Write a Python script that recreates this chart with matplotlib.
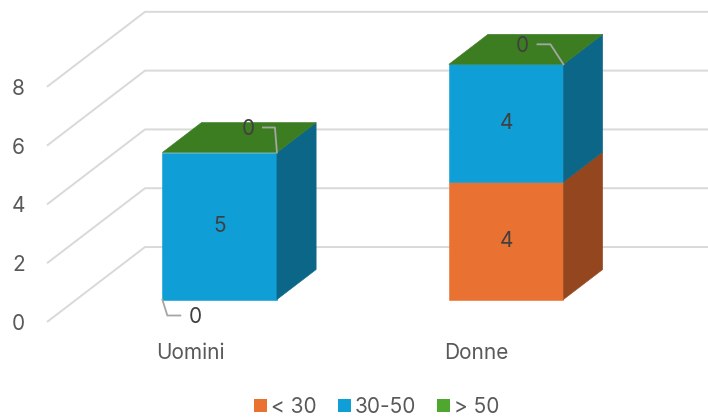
import matplotlib.pyplot as plt
from matplotlib.patches import Patch, Polygon
import numpy as np

categories = ['Uomini', 'Donne']
series = ['< 30', '30-50', '> 50']
values = {
    '< 30': [0, 4],
    '30-50': [5, 4],
    '> 50': [0, 0],
}
y_ticks = [0, 2, 4, 6, 8]

front_colors = {'< 30': '#E97132', '30-50': '#0F9ED5', '> 50': '#4EA72E'}
side_colors = {'< 30': '#94461F', '30-50': '#0B6688', '> 50': '#2F6B1A'}
top_colors = {'< 30': '#B85A28', '30-50': '#0D84B2', '> 50': '#3C7D22'}

# oblique depth (full depth of the plot box, in data units)
DX, DY = 0.342, 2.55
BAR_W = 0.4
FRONT, BACK = 0.3, 0.7
TEXT = '#595959'
LABEL = '#404040'
GRID = '#d9d9d9'
LEADER = '#a6a6a6'
FS = 15

plt.rcParams['font.family'] = ['Inter', 'DejaVu Sans']

fig = plt.figure(figsize=(7.08, 4.18), dpi=100)
ax = fig.add_axes([47 / 708, 96 / 418, 573 / 708, 8 * 29.4 / 418])
ax.set_xlim(-0.5, 1.5)
ax.set_ylim(0, 8)
for s in ax.spines.values():
    s.set_visible(False)
ax.set_yticks(y_ticks)
ax.set_xticks(range(len(categories)))
ax.set_xticklabels(categories)
ax.tick_params(length=0, labelsize=FS, labelcolor=TEXT)
ax.tick_params(axis='y', pad=16)
ax.tick_params(axis='x', pad=15)


def proj(x, y, d):
    return (x + d * DX, y + d * DY)


# gridlines: diagonal on the side wall, then along the back wall
for v in y_ticks:
    p0 = proj(-0.5, v, 0)
    p1 = proj(-0.5, v, 1)
    p2 = proj(3.0, v, 1)
    ax.plot([p0[0], p1[0], p2[0]], [p0[1], p1[1], p2[1]], color=GRID,
            lw=1.4, clip_on=False, zorder=1, solid_capstyle='butt')


def face(pts, color):
    ax.add_patch(Polygon(pts, closed=True, facecolor=color, edgecolor=color,
                         lw=0.4, clip_on=False, zorder=3))


def label_with_leader(anchor, path_px, text_px):
    base = ax.transData.transform(anchor)
    pts = [base] + [base + np.array(p) for p in path_px]
    pts = ax.transData.inverted().transform(np.array(pts))
    ax.plot(pts[:, 0], pts[:, 1], color=LEADER, lw=1.3, clip_on=False, zorder=4)
    tp = ax.transData.inverted().transform(base + np.array(text_px))
    ax.text(tp[0], tp[1], '0', color=LABEL, fontsize=FS, ha='center',
            va='center', zorder=5)


fig.canvas.draw()
h = BAR_W / 2
for i, cat in enumerate(categories):
    bottom = 0
    for s in series:
        v = values[s][i]
        y0, y1 = bottom, bottom + v
        if v > 0:
            face([proj(i - h, y0, FRONT), proj(i + h, y0, FRONT),
                  proj(i + h, y1, FRONT), proj(i - h, y1, FRONT)], front_colors[s])
            face([proj(i + h, y0, FRONT), proj(i + h, y0, BACK),
                  proj(i + h, y1, BACK), proj(i + h, y1, FRONT)], side_colors[s])
            cx, cy = proj(i, (y0 + y1) / 2, FRONT)
            ax.text(cx, cy, str(v), color=LABEL, fontsize=FS, ha='center',
                    va='center', zorder=5)
        bottom = y1
    top_s = series[-1]
    face([proj(i - h, bottom, FRONT), proj(i + h, bottom, FRONT),
          proj(i + h, bottom, BACK), proj(i - h, bottom, BACK)], top_colors[top_s])

# zero-value labels with leader lines
label_with_leader(proj(0 - h, 0, FRONT), [(5, -16), (18, -16)], (33, -17))
label_with_leader(proj(0 + h, values['30-50'][0], FRONT), [(-2, 25), (-14, 25)], (-29, 24))
label_with_leader(proj(1 + h, values['< 30'][1] + values['30-50'][1], FRONT),
                  [(-13, 20), (-26, 20)], (-41, 18))

handles = [Patch(facecolor=front_colors[s], edgecolor='none') for s in series]
fig.legend(handles, series, loc='center', bbox_to_anchor=(377 / 708, 1 - 407 / 418),
           ncol=3, frameon=False, fontsize=FS, labelcolor=TEXT,
           handlelength=0.62, handleheight=0.62, handletextpad=0.2,
           columnspacing=1.0)

fig.savefig('out.png', dpi=100)
